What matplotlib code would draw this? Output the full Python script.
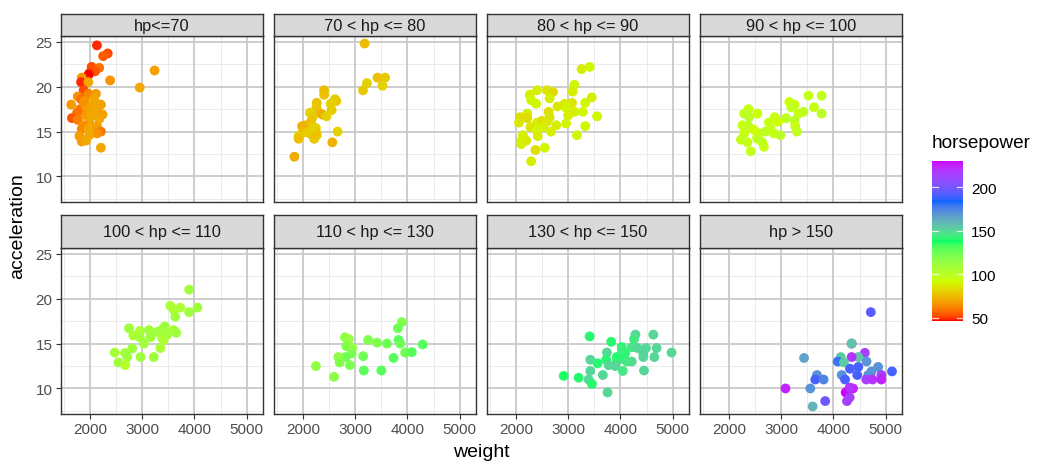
import numpy as np
import matplotlib
matplotlib.use("Agg")
import matplotlib.pyplot as plt
from matplotlib.colors import ListedColormap, Normalize

plt.rcParams['font.family'] = ['Liberation Sans', 'DejaVu Sans']

# ---------------- data ----------------
facet_labels = ["hp<=70", "70 < hp <= 80", "80 < hp <= 90", "90 < hp <= 100",
                "100 < hp <= 110", "110 < hp <= 130", "130 < hp <= 150", "hp > 150"]

w1 = [2127, 2335, 2247, 2025, 2171, 2089, 1981, 1962, 1835, 2380, 1823, 1962, 1873, 2949, 3234,
      1633, 1759, 1823, 1962, 2108, 2076, 2203, 1804, 1747, 1646, 1759, 1918, 2000, 2139, 2234,
      2171, 1981, 1873, 1835, 1962, 2127, 2203, 2127, 1981, 1791, 1835, 1918, 2203, 2076, 2013,
      1918, 1886]
a1 = [24.6, 23.7, 23.4, 22.2, 22.1, 21.7, 21.5, 21.3, 21.0, 20.7, 20.5, 20.5, 19.6, 19.9, 21.8,
      18.0, 18.9, 18.6, 19.2, 19.2, 18.6, 18.0, 17.5, 17.1, 16.5, 16.3, 16.8, 17.35, 17.2, 16.9,
      16.4, 16.0, 15.7, 15.3, 15.3, 15.6, 15.0, 14.8, 14.6, 14.5, 13.9, 14.0, 13.2, 18.0, 16.7,
      17.8, 18.4]
h1 = [48, 52, 54, 52, 58, 53, 49, 46, 67, 65, 48, 70, 52, 70, 68,
      67, 65, 58, 62, 67, 70, 68, 60, 58, 53, 61, 67, 69, 70, 68,
      70, 69, 65, 63, 70, 68, 60, 65, 70, 67, 68, 70, 70, 69, 70,
      68, 65]

w2 = [3177, 3424, 3570, 3222, 3519, 3146, 2399, 2399, 2608, 2633, 2259, 2525, 2253, 2544, 2127,
      2304, 2367, 2443, 2177, 2146, 2051, 1975, 2241, 2114, 1987, 2152, 2259, 1911, 1911, 2209,
      2658, 2557, 1829, 2082, 2241, 2177]
a2 = [24.8, 21.0, 21.0, 20.4, 20.1, 19.6, 19.6, 19.1, 18.6, 18.4, 18.2, 18.1, 17.7, 17.4, 17.1,
      17.1, 16.9, 16.7, 16.6, 16.1, 15.7, 15.6, 15.4, 15.0, 14.9, 14.7, 14.6, 14.5, 14.2, 14.2,
      15.0, 13.8, 12.2, 14.9, 14.9, 15.4]
h2 = [75, 76, 78, 80, 80, 78, 75, 76, 80, 78, 76, 80, 78, 79, 80,
      75, 71, 80, 78, 76, 75, 72, 80, 78, 75, 76, 80, 80, 75, 78,
      80, 72, 71, 79, 76, 80]

w3 = [3253, 3411, 3114, 3082, 2399, 2589, 2703, 2259, 2285, 2639, 2380, 3449, 3323, 3070, 2930,
      2791, 2962, 3120, 3278, 2620, 2209, 2070, 2209, 2639, 2994, 3551, 2051, 2399, 2494, 2589,
      2766, 2956, 2272, 2513, 2399, 2665, 3323, 3165, 2127, 2095, 2190, 2095, 2411, 2544, 2367,
      2285]
a3 = [21.95, 22.2, 20.2, 19.45, 19.6, 19.6, 19.4, 19.1, 18.5, 18.7, 18.1, 18.8, 18.2, 18.2, 18.1,
      17.8, 17.6, 17.2, 17.2, 17.2, 17.0, 16.6, 16.5, 16.6, 16.8, 16.7, 16.0, 16.0, 16.2, 16.1,
      15.7, 15.9, 15.5, 15.5, 15.1, 15.0, 15.6, 14.6, 14.6, 14.0, 14.0, 13.6, 14.5, 13.2, 12.95,
      11.7]
h3 = [88, 90, 90, 88, 88, 86, 83, 88, 90, 88, 90, 88, 90, 85, 88,
      86, 90, 88, 90, 84, 88, 84, 83, 85, 88, 90, 86, 88, 84, 86,
      88, 90, 85, 88, 90, 88, 90, 90, 88, 90, 86, 88, 87, 90, 84,
      88]

w4 = [3519, 3772, 3627, 3772, 3152, 3253, 3190, 3424, 3329, 2367, 2285, 2538, 2380, 2873, 3089,
      2937, 3253, 3266, 3297, 2253, 2367, 2475, 2570, 2696, 2791, 2854, 2981, 2285, 2222, 2348,
      2538, 2633, 2665, 2411, 2759, 2538]
a4 = [19.0, 19.0, 17.7, 17.0, 18.3, 18.0, 17.7, 17.2, 17.0, 17.5, 17.0, 17.0, 16.6, 16.6, 16.5,
      16.1, 16.2, 15.6, 15.0, 15.7, 15.6, 15.2, 14.8, 15.0, 15.4, 14.8, 14.6, 14.8, 14.1, 13.8,
      14.4, 13.8, 13.3, 12.8, 16.0, 14.2]
h4 = [95, 97, 95, 100, 92, 95, 97, 100, 95, 95, 97, 92, 100, 95, 98,
      92, 100, 95, 97, 95, 97, 92, 95, 100, 97, 95, 100, 95, 97, 95,
      92, 100, 95, 96, 95, 97]

w5 = [3898, 3537, 3727, 4057, 3600, 3632, 3898, 2743, 2952, 3124, 3359, 3429, 2825, 2952, 3155,
      3029, 3378, 3473, 3600, 3651, 2806, 3346, 2470, 2667, 2711, 2965, 3219, 2540, 2670, 3410,
      3283]
a5 = [21.0, 19.2, 19.0, 19.0, 18.75, 18.0, 18.5, 16.7, 16.4, 16.5, 16.5, 16.9, 15.9, 15.7, 15.7,
      15.0, 15.6, 16.0, 16.5, 16.2, 14.45, 14.5, 14.0, 13.95, 13.5, 13.5, 13.5, 12.9, 12.6, 15.4,
      16.3]
h5 = [110, 105, 105, 110, 105, 110, 110, 110, 105, 110, 105, 110, 105, 110, 110,
      110, 105, 110, 105, 110, 110, 105, 108, 110, 110, 110, 110, 110, 102, 105,
      110]

w6 = [3892, 3816, 2800, 2876, 3244, 3416, 3606, 3829, 3860, 4292, 2825, 2940, 2927, 2813, 2673,
      2698, 3149, 3733, 3956, 4083, 2895, 3162, 3498, 2241, 2590]
a6 = [17.39, 16.7, 15.7, 15.5, 15.4, 15.1, 15.0, 15.4, 15.0, 14.9, 14.7, 14.5, 13.9, 13.5, 13.5,
      12.9, 13.6, 13.4, 14.0, 14.05, 12.6, 12.0, 12.0, 12.5, 11.3]
h6 = [120, 125, 115, 112, 120, 120, 125, 130, 125, 130, 120, 115, 122, 125, 115,
      120, 125, 130, 125, 130, 122, 129, 130, 115, 116]

w7 = [4631, 4287, 4261, 3408, 3822, 4025, 4217, 4325, 4490, 4694, 3739, 4089, 4439, 4981, 4650,
      4439, 4057, 3420, 3726, 3930, 4217, 3561, 3771, 3898, 4121, 3420, 4045, 4452, 3662, 2911,
      3197, 3388, 3452, 3752, 3930, 4025]
a7 = [16.0, 16.0, 15.5, 15.8, 15.2, 14.6, 14.6, 14.5, 14.5, 14.5, 14.0, 13.9, 13.9, 14.0, 13.5,
      13.5, 13.3, 13.2, 13.2, 13.05, 13.0, 12.8, 12.6, 12.5, 13.0, 11.95, 11.95, 12.0, 11.5, 11.4,
      11.2, 11.0, 10.5, 9.56, 13.5, 14.3]
h7 = [150, 150, 145, 140, 140, 140, 145, 150, 150, 150, 150, 140, 150, 150, 150,
      150, 140, 150, 140, 150, 150, 140, 150, 150, 145, 150, 145, 150, 150, 137,
      140, 150, 140, 150, 140, 142]

w8 = [4717, 4349, 4349, 3435, 4603, 4140, 4477, 4349, 4083, 4203, 4635, 4477, 4317, 4857, 5124,
      4730, 4457, 4159, 4667, 4920, 3683, 4222, 3651, 3810, 4629, 4749, 4920, 3079, 3556, 4235,
      4375, 4311, 4311, 4260, 3841, 3600]
a8 = [18.5, 15.0, 15.0, 13.4, 13.97, 13.5, 13.5, 13.5, 13.0, 12.9, 13.0, 12.4, 12.2, 12.4, 11.9,
      11.9, 11.5, 11.5, 11.5, 11.5, 11.5, 11.0, 11.0, 11.0, 11.0, 11.0, 11.0, 10.0, 10.0, 9.56,
      10.0, 10.1, 9.0, 8.6, 8.6, 8.0]
h8 = [193, 225, 155, 165, 215, 153, 155, 220, 180, 153, 170, 190, 190, 170, 190,
      170, 190, 170, 170, 215, 170, 190, 190, 175, 215, 220, 225, 225, 170, 230,
      225, 220, 215, 215, 198, 160]

weights = [w1, w2, w3, w4, w5, w6, w7, w8]
accels = [a1, a2, a3, a4, a5, a6, a7, a8]
hps = [h1, h2, h3, h4, h5, h6, h7, h8]

hp_min, hp_max = 46, 230
stop_colors = ["#FF0000", "#CCFF00", "#00FF66", "#0066FF", "#CC00FF"]  # rainbow(5)

# ---------------- Lab-interpolated colormap ----------------
M = np.array([[0.4124564, 0.3575761, 0.1804375],
              [0.2126729, 0.7151522, 0.0721750],
              [0.0193339, 0.1191920, 0.9503041]])
Minv = np.linalg.inv(M)
white = M @ np.ones(3)

def hex2rgb(h):
    h = h.lstrip('#')
    return np.array([int(h[i:i + 2], 16) / 255 for i in (0, 2, 4)])

def rgb2lab(c):
    lin = np.where(c <= 0.04045, c / 12.92, ((c + 0.055) / 1.055) ** 2.4)
    xyz = M @ lin / white
    d = 6 / 29
    f = np.where(xyz > d ** 3, np.cbrt(xyz), xyz / (3 * d * d) + 4 / 29)
    return np.array([116 * f[1] - 16, 500 * (f[0] - f[1]), 200 * (f[1] - f[2])])

def lab2rgb(lab):
    L, A, B = lab
    fy = (L + 16) / 116
    fx = fy + A / 500
    fz = fy - B / 200
    d = 6 / 29
    f = np.array([fx, fy, fz])
    xyz = np.where(f > d, f ** 3, 3 * d * d * (f - 4 / 29)) * white
    lin = Minv @ xyz
    lin = np.clip(lin, 0, 1)
    c = np.where(lin <= 0.0031308, 12.92 * lin, 1.055 * lin ** (1 / 2.4) - 0.055)
    return np.clip(c, 0, 1)

labs = [rgb2lab(hex2rgb(c)) for c in stop_colors]
N = 512
cols = []
for t in np.linspace(0, 1, N):
    seg = min(int(t * 4), 3)
    u = t * 4 - seg
    lab = labs[seg] * (1 - u) + labs[seg + 1] * u
    cols.append(lab2rgb(lab))
cmap = ListedColormap(cols)
norm = Normalize(hp_min, hp_max)

# ---------------- figure ----------------
W, H = 1040, 464
fig = plt.figure(figsize=(W / 100, H / 100), dpi=100)

def fr(x0, y0, x1, y1):
    return [x0 / W, 1 - y1 / H, (x1 - x0) / W, (y1 - y0) / H]

col_x = [61, 274, 487, 700]
pw = 202
rows = [(15, 37, 203), (216, 249, 415)]

xlim = (1437, 5316)
ylim = (7.16, 25.64)
grid_major = "#C9C9C9"
grid_minor = "#EBEBEB"
border = "#333333"

for i in range(8):
    r, c = divmod(i, 4)
    st, pt, pb = rows[r]
    x0 = col_x[c]
    ax = fig.add_axes(fr(x0, pt, x0 + pw, pb))
    ax.set_xlim(*xlim)
    ax.set_ylim(*ylim)
    ax.set_facecolor("white")
    for v in [1500, 2500, 3500, 4500]:
        ax.axvline(v, color=grid_minor, lw=0.7, zorder=0)
    for v in [7.5, 12.5, 17.5, 22.5]:
        ax.axhline(v, color=grid_minor, lw=0.7, zorder=0)
    for v in [2000, 3000, 4000, 5000]:
        ax.axvline(v, color=grid_major, lw=1.3, zorder=0.5)
    for v in [10, 15, 20, 25]:
        ax.axhline(v, color=grid_major, lw=1.3, zorder=0.5)
    ax.scatter(weights[i], accels[i], c=hps[i], cmap=cmap, norm=norm,
               s=50, linewidths=0, zorder=3)
    ax.set_xticks([2000, 3000, 4000, 5000])
    ax.set_yticks([10, 15, 20, 25])
    ax.tick_params(length=3.5, width=0.8, color=border, labelsize=11,
                   labelcolor="#4D4D4D", pad=2.5)
    if r == 0:
        ax.tick_params(axis='x', bottom=False, labelbottom=False)
    if c != 0:
        ax.tick_params(axis='y', left=False, labelleft=False)
    for sp in ax.spines.values():
        sp.set_color(border)
        sp.set_linewidth(1.0)
    # strip
    sax = fig.add_axes(fr(x0, st, x0 + pw, pt))
    sax.set_facecolor("#D9D9D9")
    sax.set_xticks([])
    sax.set_yticks([])
    for sp in sax.spines.values():
        sp.set_color(border)
        sp.set_linewidth(1.0)
    sax.text(0.5, 0.5, facet_labels[i], ha='center', va='center',
             fontsize=11.8, color="#1A1A1A", transform=sax.transAxes)

# axis titles
fig.text(481 / W, 1 - 453 / H, "weight", ha='center', va='center', fontsize=14, color="black")
fig.text(18 / W, 1 - 226 / H, "acceleration", ha='center', va='center', rotation=90,
         fontsize=14, color="black")

# colorbar
cax = fig.add_axes(fr(932, 162, 963, 322))
grad = np.linspace(hp_min, hp_max, 300).reshape(-1, 1)
cax.imshow(grad, cmap=cmap, norm=norm, aspect='auto', origin='lower',
           extent=[0, 1, hp_min, hp_max])
cax.set_xlim(0, 1)
cax.set_ylim(hp_min, hp_max)
cax.set_xticks([])
cbar_ticks = [50, 100, 150, 200]
cax.set_yticks(cbar_ticks)
cax.yaxis.tick_right()
cax.tick_params(axis='y', length=0, labelsize=11, labelcolor="black", pad=6)
for v in cbar_ticks:
    cax.plot([0, 0.2], [v, v], color="white", lw=0.9, alpha=0.8)
    cax.plot([0.8, 1], [v, v], color="white", lw=0.9, alpha=0.8)
for sp in cax.spines.values():
    sp.set_visible(False)
fig.text(932 / W, 1 - 143 / H, "horsepower", ha='left', va='center', fontsize=13.7, color="black")

fig.savefig("out.png", dpi=100, facecolor="white")
